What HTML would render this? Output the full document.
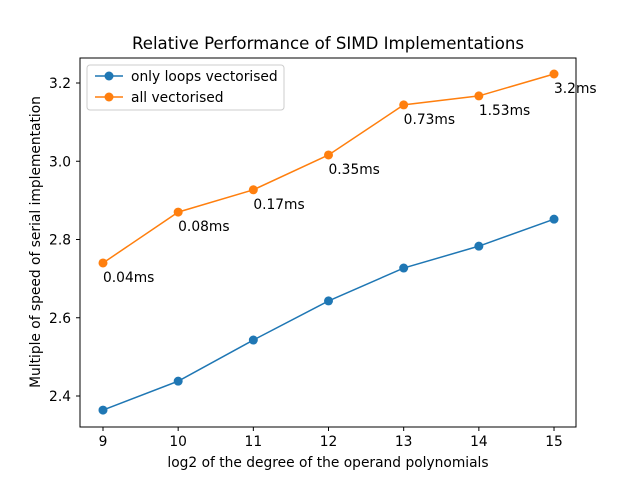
<!DOCTYPE html>
<html><head><meta charset="utf-8"><style>
body{margin:0;background:#fff;}
svg text{font-family:"DejaVu Sans","Liberation Sans",sans-serif;}
</style></head><body>
<svg id="chart" width="640" height="480" xmlns="http://www.w3.org/2000/svg">
<rect width="640" height="480" fill="#fff"/>
<text x="328" y="49" font-size="16.6" text-anchor="middle">Relative Performance of SIMD Implementations</text>
<g id="axes"></g>
<g id="marks"></g>
<rect x="80" y="58" width="496" height="369" fill="none" stroke="#000" stroke-width="1"/>
<text x="328" y="467" font-size="13.8" text-anchor="middle">log2 of the degree of the operand polynomials</text>
<text transform="translate(40,242) rotate(-90)" font-size="13.8" text-anchor="middle">Multiple of speed of serial implementation</text>
<g>
<rect x="87" y="65" width="197" height="45" rx="3" fill="#fff" fill-opacity="0.8" stroke="#ccc"/>
<line x1="95" y1="76" x2="123" y2="76" stroke="#1f77b4" stroke-width="1.5"/><circle cx="109" cy="76" r="4.5" fill="#1f77b4"/>
<text x="131" y="81" font-size="13.8">only loops vectorised</text>
<line x1="95" y1="97" x2="123" y2="97" stroke="#ff7f0e" stroke-width="1.5"/><circle cx="109" cy="97" r="4.5" fill="#ff7f0e"/>
<text x="131" y="102" font-size="13.8">all vectorised</text>
</g>
</svg>
<script>
const xs=[9,10,11,12,13,14,15];
const loopsVals=[2.364,2.438,2.543,2.643,2.727,2.783,2.852];
const allVals=[2.740,2.870,2.927,3.016,3.144,3.167,3.223];
const timeLabels=["0.04ms","0.08ms","0.17ms","0.35ms","0.73ms","1.53ms","3.2ms"];
const yTicks=[2.4,2.6,2.8,3.0,3.2];
const NS="http://www.w3.org/2000/svg";
function X(v){return 103+(v-9)*75.17;}
function Y(v){return 396-(v-2.4)*391.25;}
function mk(t,a,p){const e=document.createElementNS(NS,t);for(const k in a)e.setAttribute(k,a[k]);p.appendChild(e);return e;}
const ax=document.getElementById('axes'),mg=document.getElementById('marks');
xs.forEach(v=>{mk('line',{x1:X(v),x2:X(v),y1:427,y2:431,stroke:'#000'},ax);
const t=mk('text',{x:X(v),y:446,'font-size':13.8,'text-anchor':'middle'},ax);t.textContent=v;

});
yTicks.forEach(v=>{mk('line',{x1:76,x2:80,y1:Y(v),y2:Y(v),stroke:'#000'},ax);
const t=mk('text',{x:71,y:Y(v)+5,'font-size':13.8,'text-anchor':'end'},ax);t.textContent=v.toFixed(1);

});
function series(vals,c,name){
const pl=mk('polyline',{points:vals.map((v,i)=>X(xs[i])+','+Y(v)).join(' '),fill:'none',stroke:c,'stroke-width':1.5},mg);


vals.forEach((v,i)=>{const c0=mk('circle',{cx:X(xs[i]),cy:Y(v),r:4.5,fill:c},mg);

});}
series(loopsVals,'#1f77b4','only-loops');
series(allVals,'#ff7f0e','all-vectorised');
allVals.forEach((v,i)=>{const t=mk('text',{x:X(xs[i]),y:Y(v)+19,'font-size':13.8},mg);t.textContent=timeLabels[i];

});
</script>
</body></html>
